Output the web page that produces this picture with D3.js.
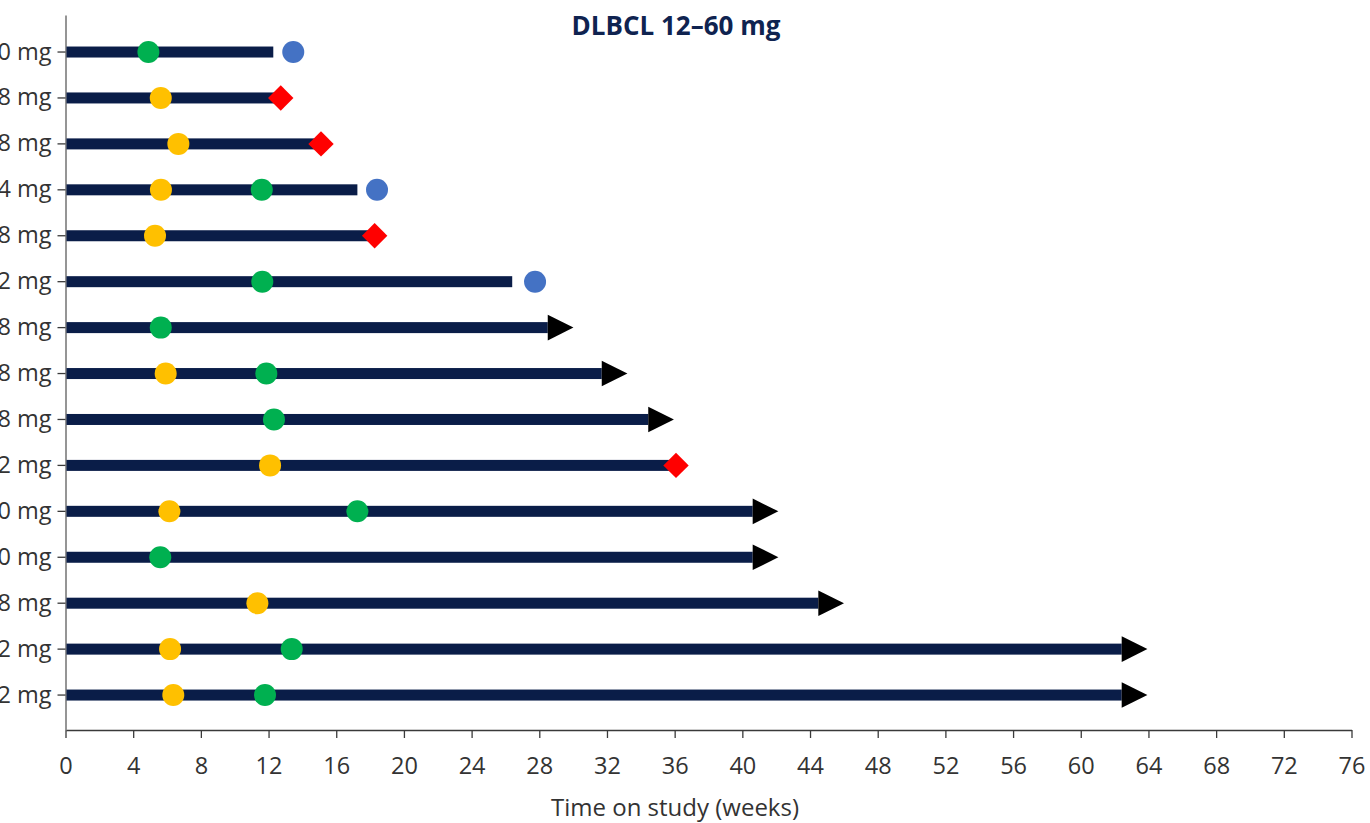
<!DOCTYPE html>
<html>
<head>
<meta charset="utf-8">
<script src="https://cdn.jsdelivr.net/npm/d3@7/dist/d3.min.js"></script>
<style>
  html, body { margin: 0; padding: 0; background: #ffffff; }
  svg { display: block; }
  text { font-family: "Open Sans", "Noto Sans", sans-serif; }
</style>
</head>
<body>
<svg id="chart" width="1370" height="823"></svg>
<script>
// Swimmer plot: one lane per patient, time on study in weeks
const doses = ["60 mg", "48 mg", "48 mg", "24 mg", "48 mg", "12 mg", "48 mg", "48 mg",
               "48 mg", "12 mg", "60 mg", "60 mg", "48 mg", "12 mg", "12 mg"];
const timeOnStudy = [12.28, 12.72, 15.1, 17.25, 18.27, 26.4, 28.5, 31.69,
                     34.44, 36.08, 40.61, 40.61, 44.49, 62.42, 62.42];
const ongoing = [false, false, false, false, false, false, true, true,
                 true, false, true, true, true, true, true];
const yellowEvent = [null, 5.63, 6.67, 5.64, 5.29, null, null, 5.92,
                     null, 12.09, 6.14, null, 11.34, 6.18, 6.37];
const greenEvent = [4.9, null, null, 11.6, null, 11.63, 5.63, 11.87,
                    12.32, null, 17.25, 5.6, null, 13.37, 11.79];
const blueEvent = [13.46, null, null, 18.41, null, 27.75, null, null,
                   null, null, null, null, null, null, null];
const redEvent = [null, 12.72, 15.1, null, 18.27, null, null, null,
                  null, 36.08, null, null, null, null, null];
const xTicks = [0, 4, 8, 12, 16, 20, 24, 28, 32, 36, 40, 44, 48, 52, 56, 60, 64, 68, 72, 76];

const svg = d3.select("#chart");
const lanes = d3.range(doses.length);

const x = d3.scaleLinear().domain([0, 76]).range([65.5, 1351.5]);
const y = d3.scaleBand().domain(lanes).range([15, 730])
  .paddingInner(0).paddingOuter(0.2835).align(0.54);
const cy = i => y(i) + y.bandwidth() / 2;

// Axes
const xAxis = svg.append("g")
  .attr("transform", `translate(0,${730})`)
  .call(d3.axisBottom(x).tickValues(xTicks).tickSize(8).tickSizeOuter(0).tickPadding(19));
xAxis.select(".domain").attr("stroke", "#3a3a3a").attr("stroke-width", 1.5);
xAxis.selectAll(".tick line").attr("stroke", "#3a3a3a").attr("stroke-width", 1.3);
xAxis.selectAll(".tick text")
  .attr("font-size", 23.5).attr("fill", "#333333")
  .attr("font-family", "'Open Sans', sans-serif");

const yAxis = svg.append("g")
  .attr("transform", `translate(${x(0)},0)`)
  .call(d3.axisLeft(y).tickFormat(i => doses[i]).tickSize(8).tickSizeOuter(0).tickPadding(6));
yAxis.select(".domain").attr("stroke", "#8a8a8a").attr("stroke-width", 1.8);
yAxis.selectAll(".tick line").attr("stroke", "#3a3a3a").attr("stroke-width", 1.3);
yAxis.selectAll(".tick text")
  .attr("font-size", 23.5).attr("fill", "#333333")
  .attr("font-family", "'Open Sans', sans-serif");

// Lanes
const barH = 11;
svg.append("g").selectAll("rect")
  .data(lanes)
  .join("rect")
  .attr("x", x(0) + 1)
  .attr("y", i => cy(i) - barH / 2)
  .attr("width", i => x(timeOnStudy[i]) - x(0) - 1)
  .attr("height", barH)
  .attr("fill", "#0a1d48");

// Continuing-on-study arrows
const aLen = 25.7, aHalf = 12.8;
svg.append("g").selectAll("path")
  .data(lanes.filter(i => ongoing[i]))
  .join("path")
  .attr("d", i => {
    const bx = x(timeOnStudy[i]), c = cy(i);
    return `M${bx},${c - aHalf}L${bx + aLen},${c}L${bx},${c + aHalf}Z`;
  })
  .attr("fill", "#000000");

// Event markers
function dots(values, color) {
  svg.append("g").selectAll("circle")
    .data(lanes.filter(i => values[i] != null))
    .join("circle")
    .attr("cx", i => x(values[i]))
    .attr("cy", i => cy(i))
    .attr("r", 11)
    .attr("fill", color);
}
dots(yellowEvent, "#ffc000");
dots(greenEvent, "#00b050");
dots(blueEvent, "#4472c4");

const dHalf = 12.7;
svg.append("g").selectAll("path")
  .data(lanes.filter(i => redEvent[i] != null))
  .join("path")
  .attr("d", i => {
    const px = x(redEvent[i]), c = cy(i);
    return `M${px},${c - dHalf}L${px + dHalf},${c}L${px},${c + dHalf}L${px - dHalf},${c}Z`;
  })
  .attr("fill", "#ff0000");

// Titles
svg.append("text")
  .attr("x", 676).attr("y", 35)
  .attr("text-anchor", "middle")
  .attr("font-size", 26).attr("font-weight", "bold")
  .attr("fill", "#0f2350")
  .text("DLBCL 12–60 mg");

svg.append("text")
  .attr("x", 675).attr("y", 816)
  .attr("text-anchor", "middle")
  .attr("font-size", 24)
  .attr("fill", "#333333")
  .text("Time on study (weeks)");
</script>
</body>
</html>
